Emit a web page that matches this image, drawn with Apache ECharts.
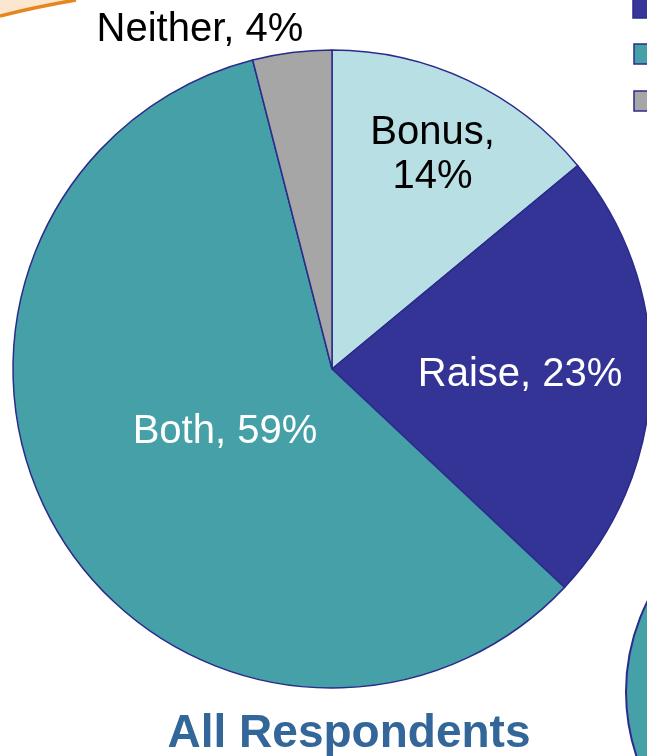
<!DOCTYPE html>
<html><head><meta charset="utf-8">
<script src="https://cdn.jsdelivr.net/npm/echarts@6/dist/echarts.min.js"></script>
<style>html,body{margin:0;padding:0;background:#fff}#c{width:647px;height:756px}</style>
</head><body><div id="c"></div>
<script>
const categories = ['Bonus', 'Raise', 'Both', 'Neither'];
const values = [14, 23, 59, 4];
const sliceColors = ['#b8dfe3', '#343497', '#46a0a8', '#a6a6a6'];
const labelColors = ['#000000', '#ffffff', '#ffffff', '#000000'];
const labelTexts = ['Bonus,\n14%', 'Raise, 23%', 'Both, 59%', 'Neither, 4%'];
// label placement: [radius factor, angle shift in degrees]
const labelPlace = [[0.74, 0], [0.59, 0], [0.39, 0], [1.14, -14.1]];
const titleText = 'All Respondents';

const CX = 332, CY = 369, R = 319;
const total = values.reduce((a, b) => a + b, 0);
const midAngles = [];
let acc = 0;
values.forEach(v => { midAngles.push((acc + v / 2) / total * 360); acc += v; });

const chart = echarts.init(document.getElementById('c'), null, {renderer: 'canvas'});
chart.setOption({
  animation: false,
  title: {
    text: titleText, left: 344, top: 706, textAlign: 'center',
    textStyle: {fontFamily: 'Liberation Sans', fontWeight: 'bold', fontSize: 46, color: '#336699'}
  },
  graphic: [
    {type: 'polygon', shape: {points: [[0,0],[76,0],[40,7],[0,16]]}, style: {fill: '#fbe6cf'}, z: 0},
    {type: 'bezierCurve', shape: {x1: 0, y1: 16, x2: 76, y2: 0, cpx1: 35, cpy1: 7}, style: {stroke: '#e8861e', lineWidth: 3.5, fill: null}, z: 1},
    {type: 'rect', shape: {x: 633, y: -3, width: 20, height: 21}, style: {fill: '#35359a', stroke: '#2b2b8c', lineWidth: 1.5}},
    {type: 'rect', shape: {x: 634, y: 44, width: 20, height: 20}, style: {fill: '#46a0a8', stroke: '#2b2b8c', lineWidth: 1.5}},
    {type: 'rect', shape: {x: 634, y: 91, width: 20, height: 20}, style: {fill: '#a6a6a6', stroke: '#2b2b8c', lineWidth: 1.5}},
    {type: 'circle', shape: {cx: 828, cy: 692, r: 202}, style: {fill: '#46a0a8', stroke: '#2b2b8c', lineWidth: 2}}
  ],
  series: [{
    type: 'pie',
    center: [CX, CY],
    radius: [0, R],
    startAngle: 90,
    clockwise: true,
    avoidLabelOverlap: false,
    data: categories.map((c, i) => ({
      name: c, value: values[i],
      itemStyle: {color: sliceColors[i]},
      label: {color: labelColors[i], formatter: labelTexts[i]}
    })),
    itemStyle: {borderColor: '#2b2b8c', borderWidth: 1.5},
    label: {
      show: true, position: 'inside',
      fontFamily: 'Liberation Sans', fontSize: 40, lineHeight: 44, align: 'center'
    },
    labelLine: {show: false},
    labelLayout: function (p) {
      const i = p.dataIndex;
      const a = (midAngles[i] + labelPlace[i][1]) * Math.PI / 180;
      const r = R * labelPlace[i][0];
      return {x: CX + r * Math.sin(a), y: CY - r * Math.cos(a), align: 'center', verticalAlign: 'middle'};
    },
    emphasis: {disabled: true}
  }]
});
</script></body></html>
